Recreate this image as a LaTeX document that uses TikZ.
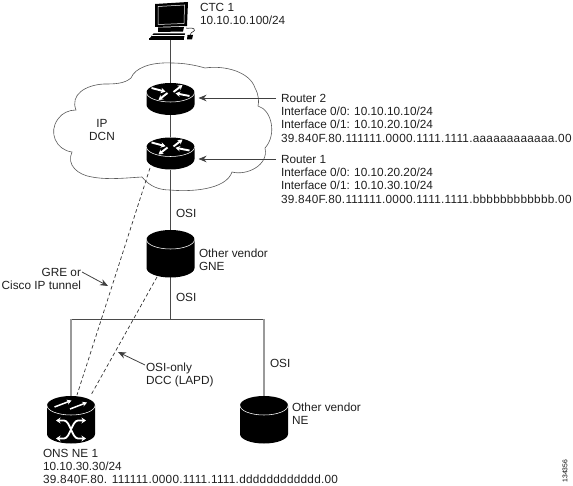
\documentclass[tikz,border=0pt]{standalone}
\usepackage{fontspec}
\setmainfont{Liberation Sans}
\newfontfamily\spaced[LetterSpace=2.2]{Liberation Sans}
\usetikzlibrary{arrows.meta}
\definecolor{linegray}{HTML}{4A4A4A}
\definecolor{buslight}{HTML}{9A9A9A}
\tikzset{
  x=1pt,y=1pt,
  lab/.style={inner sep=0pt,outer sep=0pt,anchor=north west,align=left,font=\fontsize{11.8}{13.35}\selectfont,text=black!88},
  iconbox/.style={inner sep=0pt,outer sep=0pt,minimum width=48pt,draw=none},
  link/.style={draw=linegray,line width=0.8pt},
  drop/.style={draw=buslight,line width=1.2pt},
  dashlink/.style={draw=black!80,line width=0.7pt,dash pattern=on 3.6pt off 2.6pt},
  callout/.style={draw=black!75,line width=0.8pt,-{Stealth[length=8pt,width=6.5pt]}},
  whitearrow/.style={draw=white,line width=1.9pt,-{Stealth[length=4.6pt,width=5.4pt]}},
  whitethin/.style={draw=white,line width=1.5pt,-{Stealth[length=4.6pt,width=5pt]}},
  whiteboth/.style={draw=white,line width=1.8pt,{Stealth[length=4.6pt,width=6pt]}-{Stealth[length=4.6pt,width=6pt]}},
  cyl/.pic={
    \fill[black] (-24,0) arc[start angle=180,end angle=0,x radius=24,y radius=9.5]
      -- (24,-28.5) arc[start angle=0,end angle=-180,x radius=24,y radius=9.5] -- cycle;
    \draw[white,line width=0.55pt] (-24,0) arc[start angle=180,end angle=360,x radius=24,y radius=9.5];
  },
  routericon/.pic={
    \fill[black] (-24,0) arc[start angle=180,end angle=0,x radius=24,y radius=9.5]
      -- (24,-12) arc[start angle=0,end angle=-180,x radius=24,y radius=10.5] -- cycle;
    \draw[white,line width=0.55pt] (-24,0) arc[start angle=180,end angle=360,x radius=24,y radius=9.5];
    \draw[whitearrow] (-19,4.5) -- (-5,0.8);
    \draw[whitearrow] (19,-3.5) -- (5,-0.8);
    \draw[whitearrow] (3,0.5) -- (12,7.5);
    \draw[whitearrow] (-3,-0.5) -- (-12,-7.5);
  },
}
\begin{document}
\begin{tikzpicture}
\useasboundingbox (0,-486) rectangle (573,0);
% named anchors
\node[iconbox,minimum height=40pt] (ctc) at (170.5,-20) {};
\node[iconbox,minimum height=32pt] (r2) at (170.5,-99) {};
\node[iconbox,minimum height=33pt] (r1) at (170.5,-153.5) {};
\node[iconbox,minimum height=47pt] (gne) at (170.5,-253.5) {};
\node[iconbox,minimum height=48pt] (ons) at (71,-420) {};
\node[iconbox,minimum height=48pt] (ne) at (264,-420) {};
\coordinate (bus) at (170.5,-319);
\coordinate (busl) at (71,-319);
\coordinate (busr) at (264,-319);
\coordinate (tunA) at (150,-168);
\coordinate (tunB) at (77,-395);
\coordinate (dccA) at (157,-277);
\coordinate (dccB) at (91,-395);
\coordinate (ptr2) at (276,-98);
\coordinate (ptr1) at (276,-159);
\coordinate (greS) at (82,-272);
\coordinate (greE) at (108,-286);
\coordinate (osiS) at (145,-365);
\coordinate (osiE) at (118,-352);
% cloud
\draw[draw=black!65,line width=0.6pt]
  (72,-152) .. controls (56,-150) and (48,-132) .. (58,-119)
  .. controls (62,-113) and (69,-110) .. (76,-110)
  .. controls (70,-95) and (85,-85) .. (104,-84)
  .. controls (114,-84) and (124,-84) .. (131,-78)
  .. controls (135,-68) and (150,-62) .. (172,-63)
  .. controls (183,-63) and (195,-65) .. (205,-68)
  .. controls (225,-65) and (250,-72) .. (255,-88)
  .. controls (259,-95) and (259,-102) .. (258,-106)
  .. controls (272,-110) and (277,-135) .. (265,-148)
  .. controls (269,-165) and (247,-176) .. (232,-172)
  .. controls (226,-190) and (190,-192) .. (170,-190)
  .. controls (160,-190) and (150,-187) .. (142,-177)
  .. controls (125,-178) and (108,-180) .. (92,-177)
  .. controls (78,-175) and (66,-165) .. (72,-152)
  -- cycle;
% connectors
\draw[link] (ctc.south) -- (r2.north);
\draw[link] (r2.south) -- (r1.north);
\draw[link] (r1.south) -- (gne.north);
\draw[link] (gne.south) -- (bus);
\draw[link] (busl) -- (busr);
\draw[drop] (busl) -- (ons.north);
\draw[drop] (busr) -- (ne.north);
\draw[dashlink] (tunA) -- (tunB);
\draw[dashlink] (dccA) -- (dccB);
\draw[callout] (ptr2) -- ([xshift=4pt]ptr2 -| r2.east);
\draw[callout] (ptr1) -- ([xshift=4pt]ptr1 -| r1.east);
\draw[callout] (greS) -- (greE);
\draw[callout] (osiS) -- (osiE);
% icons
\pic at (170.5,-92.5) {routericon};
\pic at (170.5,-147) {routericon};
\pic at (170.5,-239.5) {cyl};
\pic at (264,-405.5) {cyl};
\pic at (71,-405.5) {cyl};
% ONS glyphs
\begin{scope}[shift={(71,-405.5)}]
  \draw[whitethin] (-16.5,-1.5) -- (0.5,5);
  \draw[whitethin] (-1,-3.5) -- (16,3);
  \draw[whiteboth] (-15,-15) -- (-7,-15) .. controls (-1,-15) and (1,-33) .. (7,-33) -- (15,-33);
  \draw[whiteboth] (15,-15) -- (7,-15) .. controls (1,-15) and (-1,-33) .. (-7,-33) -- (-15,-33);
\end{scope}
% computer
\fill[black] (155,-4) -- (188,-2) -- (187,-26) -- (155,-27) -- cycle;
\draw[white,line width=0.5pt] (158,-6.5) -- (184.5,-5) -- (184,-23.5) -- (158,-24.5) -- cycle;
\fill[black] (158,-27.5) -- (184,-27) -- (183,-31.5) -- (158,-32) -- cycle;
\fill[black] (153.5,-33.5) -- (185,-33.5) -- (184,-38) -- (150,-38) -- cycle;
\draw[white,line width=0.4pt] (152,-35.7) -- (184.5,-35.7);
\fill[black] (149,-38.5) -- (184,-38.5) -- (184,-40) -- (149,-40) -- cycle;
\fill[black] (187.5,-35) -- (193,-35) -- (192,-39.5) -- (187,-39.5) -- cycle;
\draw[black,line width=0.5pt] (190,-35) .. controls (191,-31) and (196,-32) .. (194,-29) .. controls (192,-27) and (188,-29) .. (186,-28);
% labels
\node[lab] (lctc) at (200,-3) {CTC 1\\10.10.10.100/24};
\node[lab,anchor=north,align=center] (ldcn) at (102,-119) {IP\\DCN};
\node[lab] (lr2) at (281,-94) {Router 2\\Interface 0/0: 10.10.10.10/24\\Interface 0/1: 10.10.20.10/24\\{\spaced 39.840F.80.111111.0000.1111.1111.aaaaaaaaaaaa.00}};
\node[lab] (lr1) at (281,-155) {Router 1\\Interface 0/0: 10.10.20.20/24\\Interface 0/1: 10.10.30.10/24\\{\spaced 39.840F.80.111111.0000.1111.1111.bbbbbbbbbbbb.00}};
\node[lab] (losia) at (176,-209) {OSI};
\node[lab] (lgne) at (199,-249) {Other vendor\\GNE};
\node[lab] (losib) at (176,-293) {OSI};
\node[lab,anchor=north east,align=right] (lgre) at (81,-268) {GRE or\\Cisco IP tunnel};
\node[lab] (lonly) at (146,-363) {OSI-only\\DCC (LAPD)};
\node[lab] (losic) at (270,-359) {OSI};
\node[lab] (lne) at (292,-403) {Other vendor\\NE};
\node[lab] (lons) at (43,-449) {ONS NE 1\\10.10.30.30/24\\{\spaced 39.840F.80. 111111.0000.1111.1111.dddddddddddd.00}};
\node[inner sep=0pt,rotate=90,font=\fontsize{6.8}{7}\selectfont,text=black] (lnum) at (565,-471) {134356};
\end{tikzpicture}
\end{document}
